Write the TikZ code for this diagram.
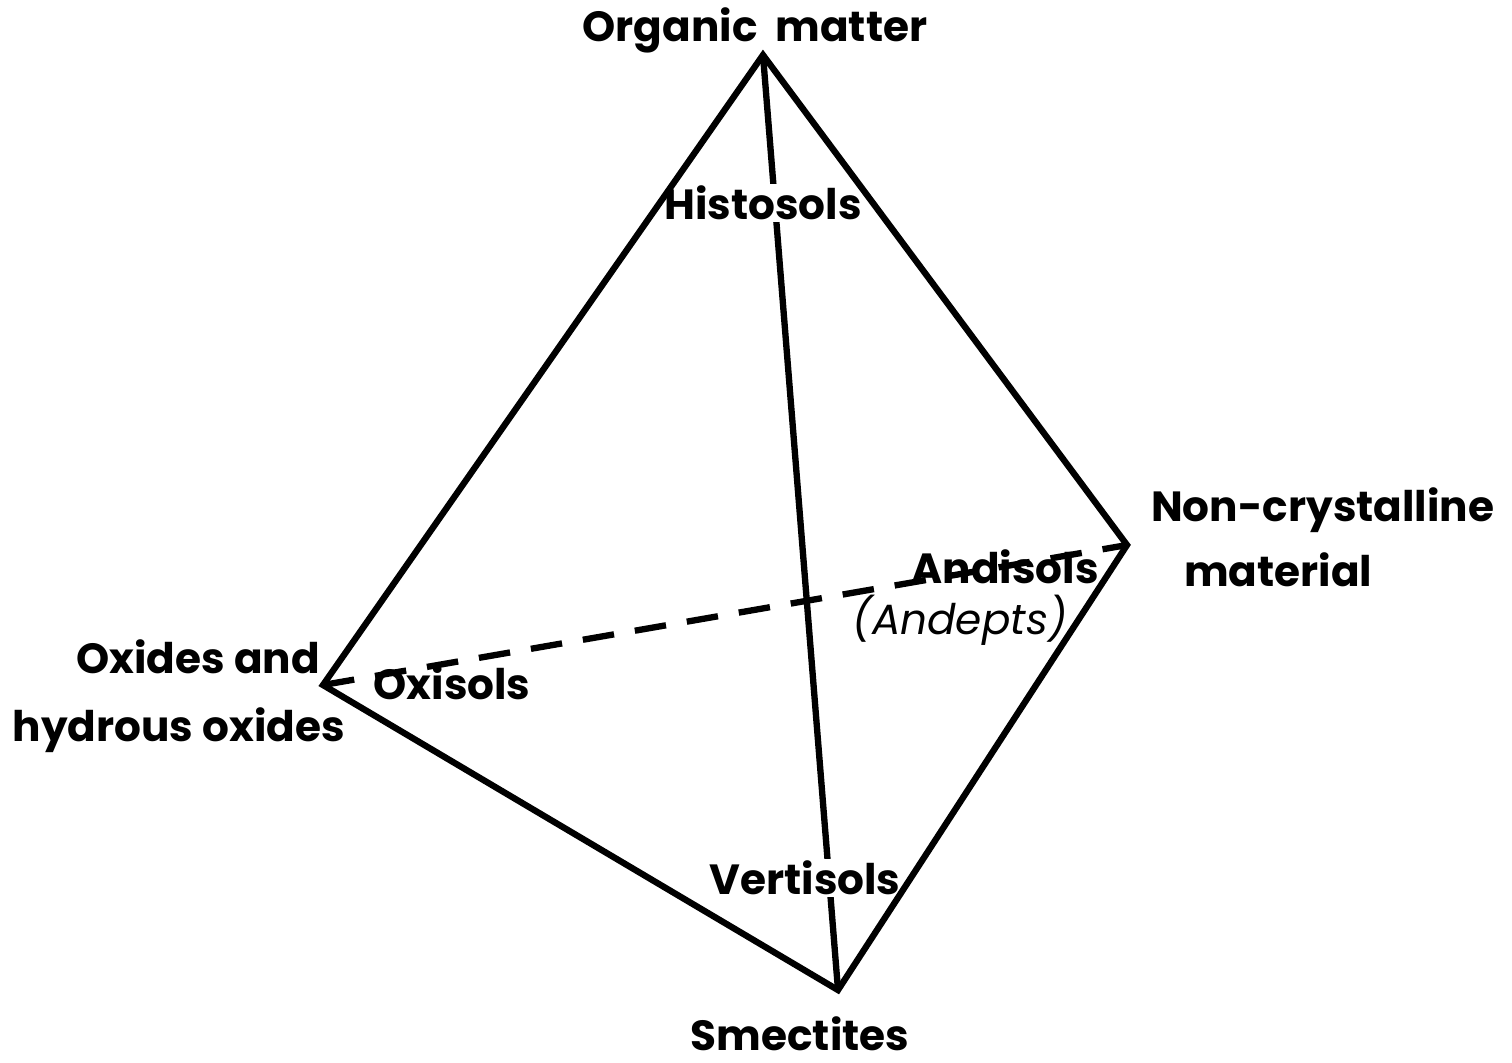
\documentclass[tikz,border=0pt]{standalone}
\usepackage{fontspec}
\setmainfont{Poppins}
\usepackage{tikz}
\usetikzlibrary{positioning,calc}
\tikzset{
  edge/.style={line width=1.8pt,draw=black,line join=miter},
  hid/.style={line width=1.8pt,draw=black,dash pattern=on 9pt off 6pt},
  lbl/.style={font=\fontsize{12}{15}\selectfont\bfseries,inner sep=1pt},
  soil/.style={font=\fontsize{12}{15}\selectfont\bfseries,inner sep=1pt},
  cut/.style={soil,fill=white,inner sep=0.5pt},
}
\begin{document}
\begin{tikzpicture}[x=0.01cm,y=-0.01cm]
  \useasboundingbox (0,0) rectangle (1512,1062);
  % corners of the tetrahedron
  \coordinate (om) at (763,55);
  \coordinate (nc) at (1127,545);
  \coordinate (sm) at (838,990);
  \coordinate (ox) at (323,685);
  % hidden edge and inner edge, then the labels that break them
  \draw[hid] (ox) -- (nc);
  \draw[edge] (om) -- (sm);
  \node[cut] (hist) at (763,203) {Histosols};
  \node[cut] (vert) at (805,878) {Vertisols};
  \draw[edge] (om) -- (nc) -- (sm) -- (ox) -- cycle;
  % corner labels
  \node[lbl] (omlbl) at (755,30) {Organic\ \ matter};
  \node[lbl,anchor=west] (nclbl) at (1147,510) {Non-crystalline};
  \node[lbl,anchor=west] (matlbl) at (1180,570) {material};
  \node[lbl,anchor=east] (oxlbl) at (324,657) {Oxides and};
  \node[lbl,anchor=east] (hylbl) at (349,730) {hydrous oxides};
  \node[lbl,inner sep=0pt] (smlbl) at (800,1034) {Smectites};
  % soil orders
  \node[soil] (andi) at (1005,567) {Andisols};
  \node[soil,font=\fontsize{12}{15}\selectfont\itshape] (andp) at (960,620) {(Andepts)};
  \node[soil] (oxis) at (452,683) {Oxisols};
\end{tikzpicture}
\end{document}
